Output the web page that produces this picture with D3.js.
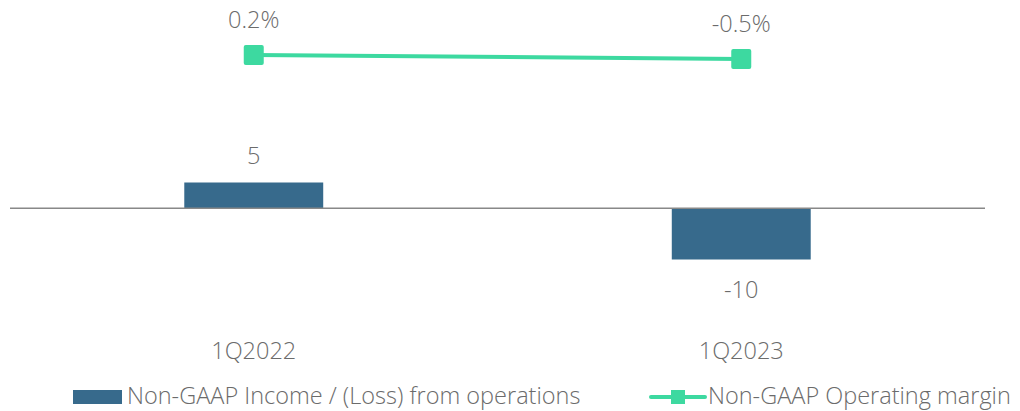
<!DOCTYPE html>
<html>
<head>
<meta charset="utf-8">
<script src="https://cdn.jsdelivr.net/npm/d3@7"></script>
<style>
  body { margin: 0; background: #fff; }
  text { font-family: "Open Sans", sans-serif; font-weight: 300; fill: #6b6b6b; font-size: 23.5px; }
</style>
</head>
<body>
<svg width="1020" height="411"></svg>
<script>
var categories = ["1Q2022", "1Q2023"];
var incomeValues = [5, -10];
var incomeLabels = ["5", "-10"];
var marginValues = [0.2, -0.5];
var marginLabels = ["0.2%", "-0.5%"];
var seriesNames = ["Non-GAAP Income / (Loss) from operations", "Non-GAAP Operating margin"];

var barColor = "#376a8c",
    lineColor = "#3dd9a0";

var svg = d3.select("svg"),
    plot = {left: 10, right: 985, zero: 208};

var x = d3.scaleBand().domain(categories).range([plot.left, plot.right]);
var barWidth = x.bandwidth() * 0.285;

// bar axis: 5 units ~ 25px
var y = d3.scaleLinear().domain([-10, 5]).range([plot.zero + 51.5, plot.zero - 25.5]);
// secondary axis for the margin line
var y2 = d3.scaleLinear().domain([-0.5, 0.2]).range([59, 55]);

function cx(d) { return x(d) + x.bandwidth() / 2; }

// bars
svg.selectAll(".bar")
    .data(categories)
  .enter().append("rect")
    .attr("class", "bar")
    .attr("x", function(d) { return cx(d) - barWidth / 2; })
    .attr("width", barWidth)
    .attr("y", function(d, i) { return Math.min(y(incomeValues[i]), y(0)); })
    .attr("height", function(d, i) { return Math.abs(y(incomeValues[i]) - y(0)); })
    .attr("fill", barColor);

// zero line
svg.append("line")
    .attr("x1", plot.left).attr("x2", plot.right)
    .attr("y1", y(0)).attr("y2", y(0))
    .attr("stroke", "#888")
    .attr("stroke-width", 1.5);

// bar labels
svg.selectAll(".bar-label")
    .data(categories)
  .enter().append("text")
    .attr("class", "bar-label")
    .attr("text-anchor", "middle")
    .attr("x", cx)
    .attr("y", function(d, i) { return incomeValues[i] >= 0 ? y(incomeValues[i]) - 19 : y(incomeValues[i]) + 38; })
    .text(function(d, i) { return incomeLabels[i]; });

// margin line
var line = d3.line()
    .x(function(d, i) { return cx(categories[i]); })
    .y(function(d) { return y2(d); });

svg.append("path")
    .datum(marginValues)
    .attr("d", line)
    .attr("fill", "none")
    .attr("stroke", lineColor)
    .attr("stroke-width", 4);

svg.selectAll(".marker")
    .data(marginValues)
  .enter().append("rect")
    .attr("class", "marker")
    .attr("x", function(d, i) { return cx(categories[i]) - 10; })
    .attr("y", function(d) { return y2(d) - 10; })
    .attr("width", 20).attr("height", 20)
    .attr("rx", 2)
    .attr("fill", lineColor);

svg.selectAll(".margin-label")
    .data(marginValues)
  .enter().append("text")
    .attr("class", "margin-label")
    .attr("text-anchor", "middle")
    .attr("x", function(d, i) { return cx(categories[i]); })
    .attr("y", function(d) { return y2(d) - 27; })
    .text(function(d, i) { return marginLabels[i]; });

// category labels
svg.selectAll(".cat")
    .data(categories)
  .enter().append("text")
    .attr("class", "cat")
    .attr("text-anchor", "middle")
    .attr("x", cx)
    .attr("y", 359)
    .text(function(d) { return d; });

// legend
var legend = svg.append("g").attr("class", "legend");

legend.append("rect")
    .attr("x", 73).attr("y", 390)
    .attr("width", 49).attr("height", 14)
    .attr("fill", barColor);

legend.append("text")
    .attr("x", 127).attr("y", 404)
    .text(seriesNames[0]);

legend.append("line")
    .attr("x1", 651).attr("x2", 705)
    .attr("y1", 397).attr("y2", 397)
    .attr("stroke", lineColor)
    .attr("stroke-width", 4)
    .attr("stroke-linecap", "round");

legend.append("rect")
    .attr("x", 671).attr("y", 390)
    .attr("width", 14).attr("height", 14)
    .attr("fill", lineColor);

legend.append("text")
    .attr("x", 708).attr("y", 404)
    .text(seriesNames[1]);
</script>
</body>
</html>
